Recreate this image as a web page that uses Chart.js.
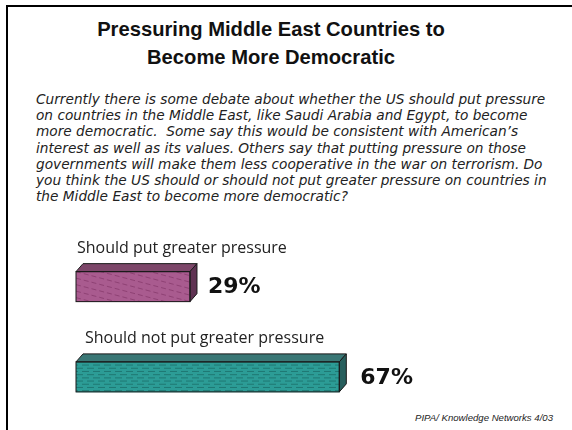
<!DOCTYPE html>
<html><head><meta charset="utf-8">
<script src="https://cdn.jsdelivr.net/npm/chart.js@4/dist/chart.umd.min.js"></script>
<style>
html,body{margin:0;padding:0;background:#fff;width:572px;height:430px;overflow:hidden;position:relative;}
#frame{position:absolute;left:6px;top:5px;width:580px;height:440px;border-left:2px solid #000;border-top:2px solid #000;}
#title{position:absolute;left:0;top:15px;width:542px;text-align:center;font-family:"Liberation Sans",Arial,sans-serif;font-weight:bold;font-size:20.2px;line-height:28px;color:#111;}
#question{position:absolute;left:36px;top:91px;font-family:"DejaVu Sans",Verdana,sans-serif;font-style:italic;font-size:13.7px;line-height:16.2px;color:#222;white-space:nowrap;}
#source{position:absolute;left:0;width:553px;top:412px;text-align:right;font-family:"Liberation Sans",Arial,sans-serif;font-style:italic;font-size:9.6px;color:#222;}
canvas{position:absolute;left:0;top:0;}
</style></head>
<body>
<div id="frame"></div>
<div id="title">Pressuring Middle East Countries to<br>Become More Democratic</div>
<div id="question">Currently there is some debate about whether the US should put pressure<br>on countries in the Middle East, like Saudi Arabia and Egypt, to become<br>more democratic.&nbsp; Some say this would be consistent with American’s<br>interest as well as its values. Others say that putting pressure on those<br>governments will make them less cooperative in the war on terrorism. Do<br>you think the US should or should not put greater pressure on countries in<br>the Middle East to become more democratic?</div>
<div id="source">PIPA/ Knowledge Networks 4/03</div>
<canvas id="c" width="572" height="430"></canvas>
<script>
const categories = ['Should put greater pressure', 'Should not put greater pressure'];
const values = [29, 67];
const valueLabels = ['29%', '67%'];
const frontColors = ['#a95b8f', '#2c9c96'];
const topColors = ['#7c4669', '#3a7775'];
const sideColors = ['#5f3252', '#275f5d'];
const lineColors = ['rgba(110,35,85,0.45)', 'rgba(20,85,82,0.5)'];

const DX = 7, DY = 8;

const bar3d = {
  id: 'bar3d',
  afterDatasetsDraw(chart) {
    const ctx = chart.ctx;
    const meta = chart.getDatasetMeta(0);
    meta.data.forEach((bar, i) => {
      const p = bar.getProps(['x', 'y', 'base', 'height'], true);
      const l = p.base, r = p.x, t = p.y - p.height / 2, b = p.y + p.height / 2;
      ctx.save();
      ctx.save();
      ctx.beginPath(); ctx.rect(l, t, r - l, b - t); ctx.clip();
      ctx.strokeStyle = lineColors[i]; ctx.lineWidth = 1;
      if (i === 0) {
        ctx.setLineDash([5, 3]);
        for (let k = -6; k < 12; k++) {
          ctx.beginPath();
          ctx.moveTo(l, t + k * 6.5);
          ctx.lineTo(r, t + k * 6.5 + 30);
          ctx.stroke();
        }
      } else {
        ctx.setLineDash([7, 4]);
        for (let k = 1; k < 10; k++) {
          ctx.beginPath();
          ctx.lineDashOffset = (k % 2) * 5;
          ctx.moveTo(l, t + k * 3.2);
          ctx.lineTo(r, t + k * 3.2);
          ctx.stroke();
        }
      }
      ctx.restore();
      ctx.strokeStyle = '#1a1a1a'; ctx.lineWidth = 1;
      ctx.beginPath();
      ctx.moveTo(l, t); ctx.lineTo(l + DX, t - DY); ctx.lineTo(r + DX, t - DY); ctx.lineTo(r, t); ctx.closePath();
      ctx.fillStyle = topColors[i]; ctx.fill(); ctx.stroke();
      ctx.beginPath();
      ctx.moveTo(r, t); ctx.lineTo(r + DX, t - DY); ctx.lineTo(r + DX, b - DY); ctx.lineTo(r, b); ctx.closePath();
      ctx.fillStyle = sideColors[i]; ctx.fill(); ctx.stroke();
      ctx.strokeRect(l, t, r - l, b - t);
      ctx.fillStyle = '#111';
      ctx.font = 'bold 22px "DejaVu Sans", Verdana, sans-serif';
      ctx.textBaseline = 'middle'; ctx.textAlign = 'left';
      ctx.fillText(valueLabels[i], r + 18 + i * 3, p.y + 1);
      ctx.font = '16px "Open Sans", sans-serif';
      ctx.fillStyle = '#222';
      ctx.fillText(categories[i], l + 1 + i * 8, t - 23);
      ctx.restore();
    });
  }
};

new Chart(document.getElementById('c'), {
  type: 'bar',
  data: {
    labels: categories,
    datasets: [{
      data: values,
      backgroundColor: frontColors,
      borderWidth: 0,
      barThickness: 30
    }]
  },
  options: {
    indexAxis: 'y',
    responsive: false,
    animation: false,
    devicePixelRatio: 1,
    layout: { padding: { left: 76, right: 103, top: 241.5, bottom: 8 } },
    scales: {
      x: { display: false, min: 0, max: 100 },
      y: { display: false }
    },
    plugins: { legend: { display: false }, tooltip: { enabled: false } }
  },
  plugins: [bar3d]
});
</script>
</body></html>
